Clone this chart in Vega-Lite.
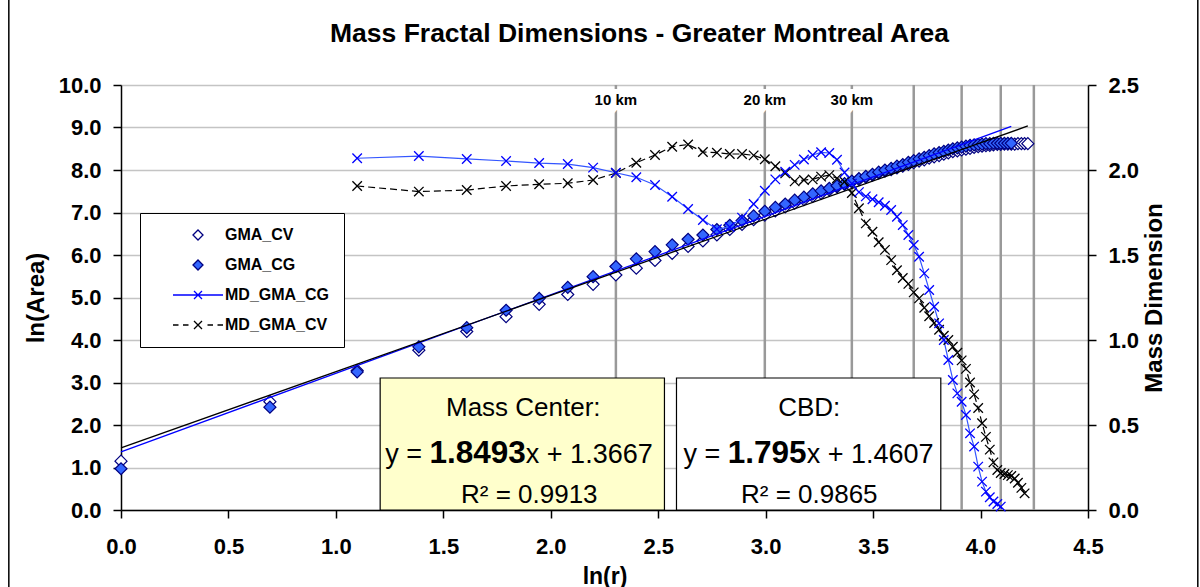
{
  "$schema": "https://vega.github.io/schema/vega-lite/v6.json",
  "width": 967,
  "height": 425,
  "autosize": "none",
  "padding": {"left": 121, "top": 85, "right": 112, "bottom": 77},
  "background": "white",
  "title": {"text": "Mass Fractal Dimensions - Greater Montreal Area", "font": "Liberation Sans", "fontSize": 26.5, "fontWeight": "bold", "color": "black", "anchor": "middle", "frame": "group", "dx": 35, "offset": -51},
  "config": {
    "font": "Liberation Sans",
    "view": {"stroke": null},
    "axis": {"domainColor": "black", "tickColor": "black", "labelColor": "black", "titleColor": "black", "labelFont": "Liberation Sans", "titleFont": "Liberation Sans", "labelFontWeight": "bold", "titleFontWeight": "bold", "labelFontSize": 22, "titleFontSize": 24, "tickSize": 8, "grid": false, "domainWidth": 1.5, "tickWidth": 1.5, "labelFlush": false},
    "legend": {"symbolStrokeWidth": 1.3}
  },
  "datasets": {
    "gma": [
      {"x": 0, "GMA_CV": 1.15, "GMA_CG": 0.97},
      {"x": 0.693, "GMA_CV": 2.55, "GMA_CG": 2.42},
      {"x": 1.099, "GMA_CV": 3.28, "GMA_CG": 3.25, "MD_GMA_CG": 2.069, "MD_GMA_CV": 1.906},
      {"x": 1.386, "GMA_CV": 3.76, "GMA_CG": 3.84, "MD_GMA_CG": 2.082, "MD_GMA_CV": 1.873},
      {"x": 1.609, "GMA_CV": 4.20, "GMA_CG": 4.29, "MD_GMA_CG": 2.065, "MD_GMA_CV": 1.882},
      {"x": 1.792, "GMA_CV": 4.55, "GMA_CG": 4.70, "MD_GMA_CG": 2.053, "MD_GMA_CV": 1.906},
      {"x": 1.946, "GMA_CV": 4.84, "GMA_CG": 4.98, "MD_GMA_CG": 2.041, "MD_GMA_CV": 1.916},
      {"x": 2.079, "GMA_CV": 5.07, "GMA_CG": 5.24, "MD_GMA_CG": 2.035, "MD_GMA_CV": 1.922},
      {"x": 2.197, "GMA_CV": 5.31, "GMA_CG": 5.49, "MD_GMA_CG": 2.014, "MD_GMA_CV": 1.941},
      {"x": 2.303, "GMA_CV": 5.53, "GMA_CG": 5.73, "MD_GMA_CG": 1.984, "MD_GMA_CV": 1.982},
      {"x": 2.398, "GMA_CV": 5.69, "GMA_CG": 5.91, "MD_GMA_CG": 1.957, "MD_GMA_CV": 2.043},
      {"x": 2.485, "GMA_CV": 5.87, "GMA_CG": 6.08, "MD_GMA_CG": 1.912, "MD_GMA_CV": 2.088},
      {"x": 2.565, "GMA_CV": 6.04, "GMA_CG": 6.24, "MD_GMA_CG": 1.843, "MD_GMA_CV": 2.137},
      {"x": 2.639, "GMA_CV": 6.20, "GMA_CG": 6.37, "MD_GMA_CG": 1.771, "MD_GMA_CV": 2.150},
      {"x": 2.708, "GMA_CV": 6.33, "GMA_CG": 6.47, "MD_GMA_CG": 1.706, "MD_GMA_CV": 2.106},
      {"x": 2.773, "GMA_CV": 6.47, "GMA_CG": 6.60, "MD_GMA_CG": 1.652, "MD_GMA_CV": 2.102},
      {"x": 2.833, "GMA_CV": 6.60, "GMA_CG": 6.70, "MD_GMA_CG": 1.665, "MD_GMA_CV": 2.094},
      {"x": 2.890, "GMA_CV": 6.72, "GMA_CG": 6.81, "MD_GMA_CG": 1.720, "MD_GMA_CV": 2.094},
      {"x": 2.944, "GMA_CV": 6.83, "GMA_CG": 6.92, "MD_GMA_CG": 1.800, "MD_GMA_CV": 2.086},
      {"x": 2.996, "GMA_CV": 6.94, "GMA_CG": 7.03, "MD_GMA_CG": 1.878, "MD_GMA_CV": 2.063},
      {"x": 3.045, "GMA_CV": 7.04, "GMA_CG": 7.12, "MD_GMA_CG": 1.945, "MD_GMA_CV": 2.022},
      {"x": 3.091, "GMA_CV": 7.13, "GMA_CG": 7.20, "MD_GMA_CG": 1.990, "MD_GMA_CV": 1.980},
      {"x": 3.135, "GMA_CV": 7.22, "GMA_CG": 7.29, "MD_GMA_CG": 2.030, "MD_GMA_CV": 1.933},
      {"x": 3.178, "GMA_CV": 7.30, "GMA_CG": 7.36, "MD_GMA_CG": 2.062, "MD_GMA_CV": 1.941},
      {"x": 3.219, "GMA_CV": 7.38, "GMA_CG": 7.44, "MD_GMA_CG": 2.088, "MD_GMA_CV": 1.945},
      {"x": 3.258, "GMA_CV": 7.45, "GMA_CG": 7.51, "MD_GMA_CG": 2.104, "MD_GMA_CV": 1.961},
      {"x": 3.296, "GMA_CV": 7.53, "GMA_CG": 7.57, "MD_GMA_CG": 2.100, "MD_GMA_CV": 1.970},
      {"x": 3.332, "GMA_CV": 7.60, "GMA_CG": 7.63, "MD_GMA_CG": 2.060, "MD_GMA_CV": 1.951},
      {"x": 3.367, "GMA_CV": 7.66, "GMA_CG": 7.68, "MD_GMA_CG": 1.985, "MD_GMA_CV": 1.931},
      {"x": 3.401, "GMA_CV": 7.72, "GMA_CG": 7.74, "MD_GMA_CG": 1.920, "MD_GMA_CV": 1.865},
      {"x": 3.434, "GMA_CV": 7.78, "GMA_CG": 7.80, "MD_GMA_CG": 1.870, "MD_GMA_CV": 1.775},
      {"x": 3.466, "GMA_CV": 7.83, "GMA_CG": 7.85, "MD_GMA_CG": 1.845, "MD_GMA_CV": 1.686},
      {"x": 3.497, "GMA_CV": 7.88, "GMA_CG": 7.90, "MD_GMA_CG": 1.828, "MD_GMA_CV": 1.637},
      {"x": 3.526, "GMA_CV": 7.93, "GMA_CG": 7.95, "MD_GMA_CG": 1.810, "MD_GMA_CV": 1.575},
      {"x": 3.555, "GMA_CV": 7.97, "GMA_CG": 8.00, "MD_GMA_CG": 1.790, "MD_GMA_CV": 1.530},
      {"x": 3.584, "GMA_CV": 8.01, "GMA_CG": 8.04, "MD_GMA_CG": 1.765, "MD_GMA_CV": 1.470},
      {"x": 3.611, "GMA_CV": 8.05, "GMA_CG": 8.09, "MD_GMA_CG": 1.725, "MD_GMA_CV": 1.410},
      {"x": 3.638, "GMA_CV": 8.09, "GMA_CG": 8.13, "MD_GMA_CG": 1.676, "MD_GMA_CV": 1.365},
      {"x": 3.664, "GMA_CV": 8.13, "GMA_CG": 8.18, "MD_GMA_CG": 1.618, "MD_GMA_CV": 1.330},
      {"x": 3.689, "GMA_CV": 8.17, "GMA_CG": 8.22, "MD_GMA_CG": 1.559, "MD_GMA_CV": 1.280},
      {"x": 3.714, "GMA_CV": 8.21, "GMA_CG": 8.26, "MD_GMA_CG": 1.490, "MD_GMA_CV": 1.245},
      {"x": 3.738, "GMA_CV": 8.24, "GMA_CG": 8.30, "MD_GMA_CG": 1.392, "MD_GMA_CV": 1.190},
      {"x": 3.761, "GMA_CV": 8.28, "GMA_CG": 8.34, "MD_GMA_CG": 1.294, "MD_GMA_CV": 1.140},
      {"x": 3.784, "GMA_CV": 8.31, "GMA_CG": 8.38, "MD_GMA_CG": 1.196, "MD_GMA_CV": 1.100},
      {"x": 3.807, "GMA_CV": 8.34, "GMA_CG": 8.41, "MD_GMA_CG": 1.098, "MD_GMA_CV": 1.060},
      {"x": 3.829, "GMA_CV": 8.37, "GMA_CG": 8.44, "MD_GMA_CG": 1.000, "MD_GMA_CV": 1.025},
      {"x": 3.850, "GMA_CV": 8.40, "GMA_CG": 8.47, "MD_GMA_CG": 0.882, "MD_GMA_CV": 1.000},
      {"x": 3.871, "GMA_CV": 8.43, "GMA_CG": 8.50, "MD_GMA_CG": 0.765, "MD_GMA_CV": 0.960},
      {"x": 3.892, "GMA_CV": 8.45, "GMA_CG": 8.52, "MD_GMA_CG": 0.686, "MD_GMA_CV": 0.925},
      {"x": 3.912, "GMA_CV": 8.47, "GMA_CG": 8.54, "MD_GMA_CG": 0.637, "MD_GMA_CV": 0.880},
      {"x": 3.932, "GMA_CV": 8.49, "GMA_CG": 8.56, "MD_GMA_CG": 0.559, "MD_GMA_CV": 0.830},
      {"x": 3.951, "GMA_CV": 8.51, "GMA_CG": 8.58, "MD_GMA_CG": 0.451, "MD_GMA_CV": 0.750},
      {"x": 3.970, "GMA_CV": 8.53, "GMA_CG": 8.59, "MD_GMA_CG": 0.373, "MD_GMA_CV": 0.680},
      {"x": 3.989, "GMA_CV": 8.55, "GMA_CG": 8.60, "MD_GMA_CG": 0.255, "MD_GMA_CV": 0.600},
      {"x": 4.007, "GMA_CV": 8.56, "GMA_CG": 8.61, "MD_GMA_CG": 0.167, "MD_GMA_CV": 0.510},
      {"x": 4.025, "GMA_CV": 8.57, "GMA_CG": 8.62, "MD_GMA_CG": 0.108, "MD_GMA_CV": 0.430},
      {"x": 4.043, "GMA_CV": 8.58, "GMA_CG": 8.62, "MD_GMA_CG": 0.075, "MD_GMA_CV": 0.355},
      {"x": 4.060, "GMA_CV": 8.59, "GMA_CG": 8.63, "MD_GMA_CG": 0.050, "MD_GMA_CV": 0.280},
      {"x": 4.078, "GMA_CV": 8.60, "GMA_CG": 8.63, "MD_GMA_CG": 0.035, "MD_GMA_CV": 0.235},
      {"x": 4.094, "GMA_CV": 8.60, "GMA_CG": 8.63, "MD_GMA_CG": 0.020, "MD_GMA_CV": 0.218},
      {"x": 4.111, "GMA_CV": 8.61, "GMA_CG": 8.63, "MD_GMA_CV": 0.212},
      {"x": 4.127, "GMA_CV": 8.61, "GMA_CG": 8.63, "MD_GMA_CV": 0.205},
      {"x": 4.143, "GMA_CV": 8.61, "GMA_CG": 8.63, "MD_GMA_CV": 0.200},
      {"x": 4.159, "GMA_CV": 8.61, "MD_GMA_CV": 0.185},
      {"x": 4.174, "GMA_CV": 8.62, "MD_GMA_CV": 0.160},
      {"x": 4.190, "GMA_CV": 8.62, "MD_GMA_CV": 0.130},
      {"x": 4.205, "GMA_CV": 8.62, "MD_GMA_CV": 0.098},
      {"x": 4.220, "GMA_CV": 8.62}
    ],
    "km": [
      {"x": 2.303, "label": "10 km"},
      {"x": 2.996, "label": "20 km"},
      {"x": 3.401, "label": "30 km"},
      {"x": 3.689, "label": ""},
      {"x": 3.912, "label": ""},
      {"x": 4.094, "label": ""},
      {"x": 4.248, "label": ""}
    ],
    "fit": [
      {"fit": "CV", "x": 0, "y": 1.4607},
      {"fit": "CV", "x": 4.220, "y": 9.0356},
      {"fit": "CG", "x": 0, "y": 1.3667},
      {"fit": "CG", "x": 4.143, "y": 9.0283}
    ],
    "notes": [
      {"tx": 1.872, "ty": 2.212, "t": "Mass Center:", "a": "c"},
      {"tx": 1.401, "ty": 1.115, "t": "y =", "a": "r"},
      {"tx": 1.884, "ty": 1.115, "t": "x + 1.3667", "a": "l"},
      {"tx": 1.900, "ty": 0.165, "t": "R² = 0.9913", "a": "c"},
      {"tx": 3.203, "ty": 2.212, "t": "CBD:", "a": "c"},
      {"tx": 2.789, "ty": 1.115, "t": "y =", "a": "r"},
      {"tx": 3.191, "ty": 1.115, "t": "x + 1.4607", "a": "l"},
      {"tx": 3.203, "ty": 0.165, "t": "R² = 0.9865", "a": "c"},
      {"tx": 1.660, "ty": 1.115, "t": "1.8493", "a": "b"},
      {"tx": 3.007, "ty": 1.115, "t": "1.795", "a": "b"}
    ]
  },
  "layer": [
    {
      "layer": [
        {
          "data": {"name": "km"},
          "mark": {"type": "rule", "color": "#999999", "strokeWidth": 2.5},
          "encoding": {
            "x": {"field": "x", "type": "quantitative", "scale": {"domain": [0, 4.5], "nice": false}, "axis": {"title": "ln(r)", "values": [0, 0.5, 1, 1.5, 2, 2.5, 3, 3.5, 4, 4.5], "format": ".1f", "labelPadding": 18, "titlePadding": 8, "titleFontSize": 23}}
          }
        },
        {
          "data": {"name": "km"},
          "transform": [{"filter": "datum.label != ''"}],
          "mark": {"type": "text", "font": "Liberation Sans", "fontSize": 15, "fontWeight": "bold", "stroke": "white", "strokeWidth": 10, "baseline": "middle", "align": "center"},
          "encoding": {
            "x": {"field": "x", "type": "quantitative"},
            "y": {"datum": 9.65, "type": "quantitative", "scale": {"domain": [0, 10], "nice": false}, "axis": {"title": "ln(Area)", "values": [0, 1, 2, 3, 4, 5, 6, 7, 8, 9, 10], "format": ".1f", "grid": true, "gridColor": "#c4c4c4", "gridWidth": 1.5, "labelPadding": 12, "titlePadding": 10}},
            "text": {"field": "label"}
          }
        },
        {
          "data": {"name": "km"},
          "transform": [{"filter": "datum.label != ''"}],
          "mark": {"type": "text", "font": "Liberation Sans", "fontSize": 15, "fontWeight": "bold", "color": "black", "baseline": "middle", "align": "center"},
          "encoding": {
            "x": {"field": "x", "type": "quantitative"},
            "y": {"datum": 9.65, "type": "quantitative"},
            "text": {"field": "label"}
          }
        },
        {
          "data": {"values": [{}]},
          "mark": {"type": "rect", "fill": "#ffffcc", "stroke": "black", "strokeWidth": 1.2},
          "encoding": {
            "x": {"datum": 1.206, "type": "quantitative"}, "x2": {"datum": 2.529},
            "y": {"datum": 0, "type": "quantitative"}, "y2": {"datum": 3.106}
          }
        },
        {
          "data": {"values": [{}]},
          "mark": {"type": "rect", "fill": "white", "stroke": "black", "strokeWidth": 1.2},
          "encoding": {
            "x": {"datum": 2.585, "type": "quantitative"}, "x2": {"datum": 3.815},
            "y": {"datum": 0, "type": "quantitative"}, "y2": {"datum": 3.106}
          }
        },
        {
          "data": {"values": [{}]},
          "mark": {"type": "rect", "fill": null, "fillOpacity": 0, "stroke": "black", "strokeWidth": 1.5},
          "encoding": {
            "x": {"datum": -0.522, "type": "quantitative"}, "x2": {"datum": 5.011},
            "y": {"datum": -2.3, "type": "quantitative"}, "y2": {"datum": 12.06}
          }
        },
        {
          "data": {"name": "notes"},
          "transform": [{"filter": "datum.a == 'c'"}],
          "mark": {"type": "text", "font": "Liberation Sans", "fontSize": 26, "color": "black", "baseline": "alphabetic", "align": "center"},
          "encoding": {
            "x": {"field": "tx", "type": "quantitative"},
            "y": {"field": "ty", "type": "quantitative"},
            "text": {"field": "t"}
          }
        },
        {
          "data": {"name": "notes"},
          "transform": [{"filter": "datum.a == 'r'"}],
          "mark": {"type": "text", "font": "Liberation Sans", "fontSize": 27, "color": "black", "baseline": "alphabetic", "align": "right"},
          "encoding": {
            "x": {"field": "tx", "type": "quantitative"},
            "y": {"field": "ty", "type": "quantitative"},
            "text": {"field": "t"}
          }
        },
        {
          "data": {"name": "notes"},
          "transform": [{"filter": "datum.a == 'l'"}],
          "mark": {"type": "text", "font": "Liberation Sans", "fontSize": 27, "color": "black", "baseline": "alphabetic", "align": "left"},
          "encoding": {
            "x": {"field": "tx", "type": "quantitative"},
            "y": {"field": "ty", "type": "quantitative"},
            "text": {"field": "t"}
          }
        },
        {
          "data": {"name": "notes"},
          "transform": [{"filter": "datum.a == 'b'"}],
          "mark": {"type": "text", "font": "Liberation Sans", "fontSize": 31.5, "fontWeight": "bold", "color": "black", "baseline": "alphabetic", "align": "center"},
          "encoding": {
            "x": {"field": "tx", "type": "quantitative"},
            "y": {"field": "ty", "type": "quantitative"},
            "text": {"field": "t"}
          }
        },
        {
          "data": {"name": "gma"},
          "transform": [{"fold": ["GMA_CV"], "as": ["series", "value"]}, {"filter": "isValid(datum.value)"}],
          "mark": {"type": "point", "filled": true, "strokeWidth": 1.2, "size": 144, "opacity": 1},
          "encoding": {
            "x": {"field": "x", "type": "quantitative"},
            "y": {"field": "value", "type": "quantitative"},
            "shape": {
              "field": "series", "type": "nominal",
              "scale": {"domain": ["GMA_CV", "GMA_CG", "MD_GMA_CG", "MD_GMA_CV"], "range": ["diamond", "diamond", "M-5,0L5,0M-0.8,-0.8L0.8,0.8M-0.8,0.8L0.8,-0.8", "M-5,0L-3.9,0M-3.0,0L-1.9,0M-0.8,-0.8L0.8,0.8M-0.8,0.8L0.8,-0.8M1.9,0L3.0,0M3.9,0L5,0"]},
              "legend": {"title": null, "orient": "none", "legendX": 19, "legendY": 128, "fillColor": "white", "strokeColor": "black", "padding": 14, "symbolSize": 100, "symbolOffset": 36, "labelOffset": 19, "rowPadding": 14, "labelFont": "Liberation Sans", "labelFontSize": 16, "labelFontWeight": "bold", "labelColor": "black", "symbolStrokeWidth": 1.3, "symbolOpacity": 1}
            },
            "fill": {
              "field": "series", "type": "nominal",
              "scale": {"domain": ["GMA_CV", "GMA_CG", "MD_GMA_CG", "MD_GMA_CV"], "range": ["#ffffff", "#3366ff", "transparent", "transparent"]},
              "legend": {"title": null, "orient": "none", "legendX": 19, "legendY": 128, "fillColor": "white", "strokeColor": "black", "padding": 14, "symbolSize": 100, "symbolOffset": 36, "labelOffset": 19, "rowPadding": 14, "labelFont": "Liberation Sans", "labelFontSize": 16, "labelFontWeight": "bold", "labelColor": "black", "symbolStrokeWidth": 1.3, "symbolOpacity": 1}
            },
            "stroke": {
              "field": "series", "type": "nominal",
              "scale": {"domain": ["GMA_CV", "GMA_CG", "MD_GMA_CG", "MD_GMA_CV"], "range": ["#000080", "#000080", "#0000ff", "#000000"]},
              "legend": {"title": null, "orient": "none", "legendX": 19, "legendY": 128, "fillColor": "white", "strokeColor": "black", "padding": 14, "symbolSize": 100, "symbolOffset": 36, "labelOffset": 19, "rowPadding": 14, "labelFont": "Liberation Sans", "labelFontSize": 16, "labelFontWeight": "bold", "labelColor": "black", "symbolStrokeWidth": 1.3, "symbolOpacity": 1}
            }
          }
        },
        {
          "data": {"name": "gma"},
          "transform": [{"fold": ["GMA_CG"], "as": ["series", "value"]}, {"filter": "isValid(datum.value)"}],
          "mark": {"type": "point", "filled": true, "strokeWidth": 1.2, "size": 144, "opacity": 1},
          "encoding": {
            "x": {"field": "x", "type": "quantitative"},
            "y": {"field": "value", "type": "quantitative"},
            "shape": {"field": "series", "type": "nominal"},
            "fill": {"field": "series", "type": "nominal"},
            "stroke": {"field": "series", "type": "nominal"}
          }
        },
        {
          "data": {"name": "fit"},
          "transform": [{"filter": "datum.fit == 'CG'"}],
          "mark": {"type": "line", "color": "#0000ff", "strokeWidth": 1.3},
          "encoding": {
            "x": {"field": "x", "type": "quantitative"},
            "y": {"field": "y", "type": "quantitative"}
          }
        },
        {
          "data": {"name": "fit"},
          "transform": [{"filter": "datum.fit == 'CV'"}],
          "mark": {"type": "line", "color": "#000000", "strokeWidth": 1.3},
          "encoding": {
            "x": {"field": "x", "type": "quantitative"},
            "y": {"field": "y", "type": "quantitative"}
          }
        }
      ]
    },
    {
      "layer": [
        {
          "data": {"name": "gma"},
          "transform": [{"fold": ["MD_GMA_CG"], "as": ["series", "value"]}, {"filter": "isValid(datum.value)"}],
          "mark": {"type": "line", "color": "#3355ff", "strokeWidth": 1.2},
          "encoding": {
            "x": {"field": "x", "type": "quantitative"},
            "y": {"field": "value", "type": "quantitative", "scale": {"domain": [0, 2.5], "nice": false}, "axis": {"orient": "right", "title": "Mass Dimension", "titleAngle": 270, "values": [0, 0.5, 1, 1.5, 2, 2.5], "format": ".1f", "grid": false, "labelPadding": 12, "titlePadding": 28}}
          }
        },
        {
          "data": {"name": "gma"},
          "transform": [{"fold": ["MD_GMA_CV"], "as": ["series", "value"]}, {"filter": "isValid(datum.value)"}],
          "mark": {"type": "line", "color": "#000000", "strokeWidth": 1.2, "strokeDash": [7, 4]},
          "encoding": {
            "x": {"field": "x", "type": "quantitative"},
            "y": {"field": "value", "type": "quantitative"}
          }
        },
        {
          "data": {"name": "gma"},
          "transform": [{"fold": ["MD_GMA_CV"], "as": ["series", "value"]}, {"filter": "isValid(datum.value)"}],
          "mark": {"type": "point", "shape": "M-1,-1L1,1M-1,1L1,-1", "filled": false, "stroke": "#000000", "strokeWidth": 1.3, "size": 90, "opacity": 1},
          "encoding": {
            "x": {"field": "x", "type": "quantitative"},
            "y": {"field": "value", "type": "quantitative"}
          }
        },
        {
          "data": {"name": "gma"},
          "transform": [{"fold": ["MD_GMA_CG"], "as": ["series", "value"]}, {"filter": "isValid(datum.value)"}],
          "mark": {"type": "point", "shape": "M-1,-1L1,1M-1,1L1,-1", "filled": false, "stroke": "#0000ff", "strokeWidth": 1.3, "size": 90, "opacity": 1},
          "encoding": {
            "x": {"field": "x", "type": "quantitative"},
            "y": {"field": "value", "type": "quantitative"}
          }
        }
      ]
    }
  ],
  "resolve": {"scale": {"y": "independent"}}
}
